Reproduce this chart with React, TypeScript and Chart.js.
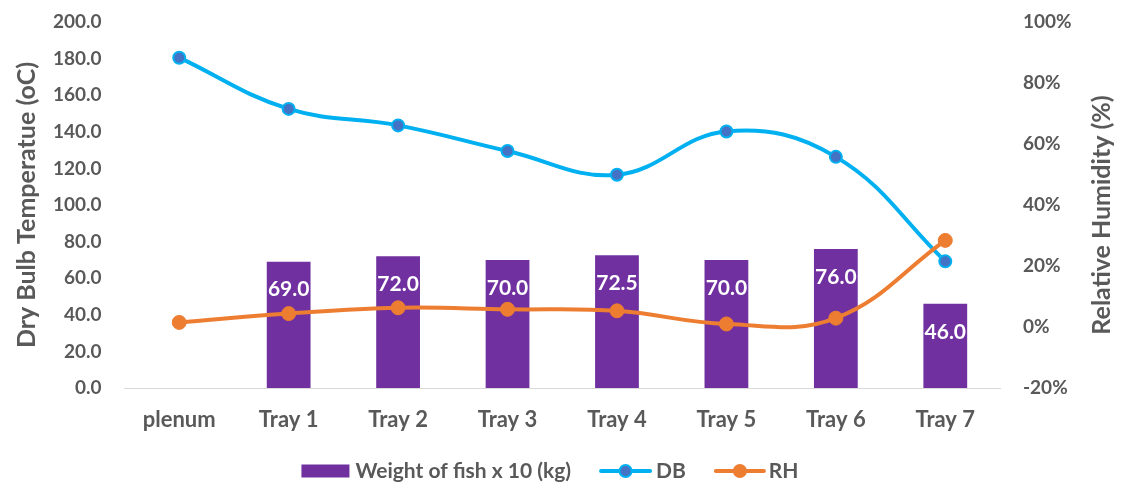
import { useEffect, useRef } from "react";
import { Chart, registerables } from "chart.js";

Chart.register(...registerables);

// Drying trial readings per position in the dryer
const categories = ["plenum", "Tray 1", "Tray 2", "Tray 3", "Tray 4", "Tray 5", "Tray 6", "Tray 7"];
const fishWeight = [null, 69.0, 72.0, 70.0, 72.5, 70.0, 76.0, 46.0]; // kg x 10
const dryBulb = [180.5, 152.5, 143.5, 129.5, 116.5, 140.2, 126.3, 69.2]; // oC
const relHumidity = [1.5, 4.4, 6.3, 5.8, 5.3, 1.0, 2.9, 28.4]; // %

const tempTicks = [0, 20, 40, 60, 80, 100, 120, 140, 160, 180, 200];
const rhTicks = [-20, 0, 20, 40, 60, 80, 100];

const FONT = "Lato, 'Open Sans', sans-serif";
const GREY = "#595959";
const PURPLE = "#7030A0";
const BLUE = "#00B0F0";
const BLUE_DOT = "#4472C4";
const ORANGE = "#ED7D31";

// White value labels inside the top of each bar
const barLabels = {
  id: "barLabels",
  afterDatasetsDraw(chart: any) {
    const meta = chart.getDatasetMeta(0);
    const ctx = chart.ctx;
    ctx.save();
    ctx.font = `bold 21px ${FONT}`;
    ctx.fillStyle = "#ffffff";
    ctx.textAlign = "center";
    ctx.textBaseline = "middle";
    meta.data.forEach((el: any, i: number) => {
      const v = fishWeight[i];
      if (v == null) return;
      ctx.fillText(v.toFixed(1), el.x, el.y + 28);
    });
    ctx.restore();
  },
};

// Right-hand axis title, reading bottom to top
const rightTitle = {
  id: "rightTitle",
  afterDraw(chart: any) {
    const ctx = chart.ctx;
    ctx.save();
    ctx.translate(1102, 215);
    ctx.rotate(-Math.PI / 2);
    ctx.font = `bold 25px ${FONT}`;
    ctx.fillStyle = GREY;
    ctx.textAlign = "center";
    ctx.textBaseline = "middle";
    ctx.fillText("Relative Humidity (%)", 0, 0);
    ctx.restore();
  },
};

// Legend row under the axis: bar swatch, then line-with-marker swatches
const bottomLegend = {
  id: "bottomLegend",
  afterDraw(chart: any) {
    const ctx = chart.ctx;
    const items = [
      { kind: "box", label: "Weight of fish x 10 (kg)", w: 48, gap: 6 },
      { kind: "line", label: "DB", w: 53, gap: 4, line: BLUE, dot: BLUE_DOT, r: 6 },
      { kind: "line", label: "RH", w: 52, gap: 3, line: ORANGE, dot: ORANGE, r: 7 },
    ];
    const between = 28;
    const y = 471;
    ctx.save();
    ctx.font = `bold 21px ${FONT}`;
    ctx.textBaseline = "middle";
    ctx.textAlign = "left";
    const widths = items.map((it) => it.w + it.gap + ctx.measureText(it.label).width);
    const total = widths.reduce((a, b) => a + b, 0) + between * (items.length - 1);
    let x = 550 - total / 2;
    items.forEach((it: any, i) => {
      if (it.kind === "box") {
        ctx.fillStyle = PURPLE;
        ctx.fillRect(x, y - 6.5, it.w, 13);
      } else {
        ctx.strokeStyle = it.line;
        ctx.lineWidth = 4;
        ctx.lineCap = "round";
        ctx.beginPath();
        ctx.moveTo(x + 2, y);
        ctx.lineTo(x + it.w - 2, y);
        ctx.stroke();
        ctx.beginPath();
        ctx.arc(x + it.w / 2, y, it.r, 0, Math.PI * 2);
        ctx.fillStyle = it.dot;
        ctx.fill();
        if (it.dot !== it.line) {
          ctx.lineWidth = 2;
          ctx.strokeStyle = it.line;
          ctx.stroke();
        }
      }
      ctx.fillStyle = GREY;
      ctx.fillText(it.label, x + it.w + it.gap, y);
      x += widths[i] + between;
    });
    ctx.restore();
  },
};

// Keep the plot area edges fixed regardless of tick label overhang
const noOverhang = (s: any) => {
  s.paddingTop = 0;
  s.paddingBottom = 0;
};

export default function App() {
  const canvasRef = useRef<HTMLCanvasElement | null>(null);

  useEffect(() => {
    let chart: Chart | null = null;
    let cancelled = false;

    const build = () => {
      if (cancelled || !canvasRef.current) return;
      chart = new Chart(canvasRef.current, {
        type: "bar",
        data: {
          labels: categories,
          datasets: [
            {
              type: "bar",
              label: "Weight of fish x 10 (kg)",
              data: fishWeight,
              backgroundColor: PURPLE,
              yAxisID: "yTemp",
              order: 3,
              barPercentage: 0.4,
              categoryPercentage: 1,
            },
            {
              type: "line",
              label: "DB",
              data: dryBulb,
              borderColor: BLUE,
              borderWidth: 4,
              backgroundColor: BLUE_DOT,
              pointBackgroundColor: BLUE_DOT,
              pointBorderColor: BLUE,
              pointBorderWidth: 2,
              pointRadius: 6,
              tension: 0.4,
              yAxisID: "yTemp",
              order: 2,
            },
            {
              type: "line",
              label: "RH",
              data: relHumidity,
              borderColor: ORANGE,
              borderWidth: 4,
              backgroundColor: ORANGE,
              pointBackgroundColor: ORANGE,
              pointBorderColor: ORANGE,
              pointBorderWidth: 1,
              pointRadius: 7,
              tension: 0.4,
              yAxisID: "yRH",
              order: 1,
            },
          ],
        },
        options: {
          responsive: false,
          animation: false,
          layout: { padding: { top: 22, left: 0, right: 0, bottom: 0 }, autoPadding: false },
          plugins: {
            legend: { display: false },
            tooltip: { enabled: false },
          },
          scales: {
            x: {
              grid: { display: false, drawTicks: false },
              border: { display: true, color: "#D9D9D9", width: 1 },
              ticks: {
                color: GREY,
                font: { family: FONT, size: 22, weight: "bold" },
                padding: 19,
                maxRotation: 0,
              },
              afterFit: (s: any) => {
                s.height = 99;
              },
            },
            yTemp: {
              position: "left",
              min: 0,
              max: 200,
              grid: { display: false, drawTicks: false },
              border: { display: false },
              afterBuildTicks: (s: any) => {
                s.ticks = tempTicks.map((v) => ({ value: v }));
              },
              ticks: {
                color: GREY,
                font: { family: FONT, size: 19, weight: "bold" },
                padding: 23,
                callback: (v: any) => Number(v).toFixed(1),
              },
              title: {
                display: true,
                text: "Dry Bulb Temperatue (oC)",
                color: GREY,
                font: { family: FONT, size: 25, weight: "bold" },
                padding: { top: 12, bottom: 0 },
              },
              afterFit: (s: any) => {
                s.width = 124.5;
                noOverhang(s);
              },
            },
            yRH: {
              position: "right",
              min: -20,
              max: 100,
              grid: { display: false, drawTicks: false },
              border: { display: false },
              afterBuildTicks: (s: any) => {
                s.ticks = rhTicks.map((v) => ({ value: v }));
              },
              ticks: {
                color: GREY,
                font: { family: FONT, size: 19, weight: "bold" },
                padding: 23,
                callback: (v: any) => `${v}%`,
              },
              afterFit: (s: any) => {
                s.width = 122;
                noOverhang(s);
              },
            },
          },
        },
        plugins: [barLabels, rightTitle, bottomLegend],
      } as any);
    };

    const fonts = (document as any).fonts;
    if (fonts && fonts.load) {
      Promise.all([
        fonts.load(`bold 19px Lato`),
        fonts.load(`bold 21px Lato`),
        fonts.load(`bold 25px Lato`),
      ])
        .catch(() => undefined)
        .then(build);
    } else {
      build();
    }

    return () => {
      cancelled = true;
      if (chart) chart.destroy();
    };
  }, []);

  return (
    <div style={{ position: "absolute", left: 0, top: 0, width: 1122, height: 487, background: "#ffffff" }}>
      <canvas ref={canvasRef} width={1122} height={487} />
    </div>
  );
}
